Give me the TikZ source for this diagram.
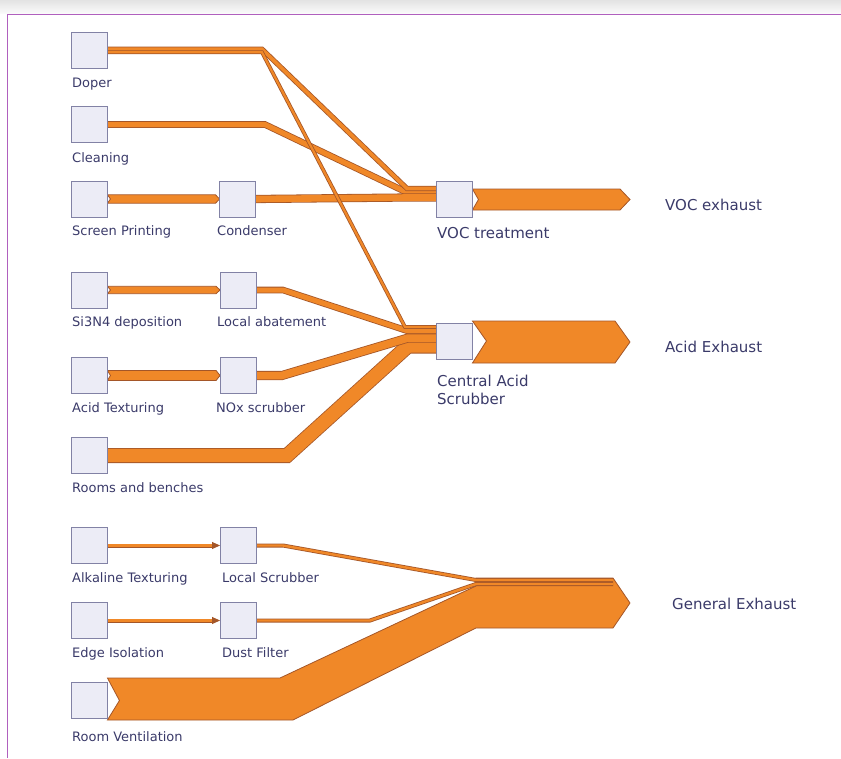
\documentclass[tikz,border=0pt]{standalone}
\usepackage{fontspec}
\setmainfont{DejaVu Sans}
\usetikzlibrary{calc}
\definecolor{flowor}{RGB}{240,136,40}
\definecolor{flowbr}{RGB}{164,86,40}
\definecolor{boxfill}{RGB}{236,236,246}
\definecolor{boxline}{RGB}{130,130,165}
\definecolor{txt}{RGB}{58,58,105}
\definecolor{frameline}{RGB}{176,96,190}
\tikzset{
  box/.style={draw=boxline, fill=boxfill, line width=0.9pt, minimum size=35pt, inner sep=0pt},
  lbl/.style={text=txt, inner sep=0pt, anchor=base west, font=\fontsize{13}{15}\selectfont},
  biglbl/.style={text=txt, inner sep=0pt, anchor=base west, font=\fontsize{15}{18}\selectfont},
  band/.style={fill=flowor, draw=flowbr, line width=0.8pt, line join=miter},
  flow/.style={double=flowor, draw=flowbr, line width=0.8pt, double distance=#1, line join=miter},
}
\newcommand\srcband[3]{%
  \draw[band] ($(#1.east)+(0,-#3)$) -- ($(#2.west)+(-4,-#3)$) -- (#2.west)
    -- ($(#2.west)+(-4,#3)$) -- ($(#1.east)+(0,#3)$) -- ($(#1.east)+(3,0)$) -- cycle;}
\begin{document}
\begin{tikzpicture}[x=1pt, y=-1pt]
\useasboundingbox (0,0) rectangle (841,758);
% frame
\shade[top color=black!11, bottom color=black!2] (0,0) rectangle (841,13);
\draw[frameline, line width=1.8pt] (841,14.5) -- (7.5,14.5) -- (7.5,758);

% nodes (boxes)
\node[box] (doper) at (89.5,50.5) {};
\node[box] (cleaning) at (89.5,124.5) {};
\node[box] (screen) at (89.5,199) {};
\node[box] (condenser) at (237.5,199) {};
\node[box] (voc) at (454.5,199.5) {};
\node[box] (si3n4) at (89.5,290) {};
\node[box] (localab) at (238,290) {};
\node[box] (acidtex) at (89.5,375.5) {};
\node[box] (nox) at (238,375.5) {};
\node[box] (rooms) at (89.5,455.5) {};
\node[box] (acid) at (454.5,341) {};
\node[box] (alk) at (89.5,545.5) {};
\node[box] (lscr) at (238,545.5) {};
\node[box] (edge) at (89.5,620.5) {};
\node[box] (dust) at (238,620.5) {};
\node[box] (roomvent) at (89.5,700.5) {};

% flows to VOC treatment
\draw[flow=5pt] (cleaning.east) -- (265,124.5) -- (407,192.5) -- (voc.west |- 0,192.5);
\draw[flow=3.6pt] ($(doper.east)+(0,-1.3)$) -- (262,49.2) -- (407,188.5) -- (voc.west |- 0,188.5);
\srcband{screen}{condenser}{4.2}
\draw[flow=6.6pt] (condenser.east) -- (407,197.5) -- (voc.west |- 0,197.5);

% flows to central acid scrubber
\srcband{si3n4}{localab}{3.7}
\srcband{acidtex}{nox}{5}
\draw[flow=5pt] (localab.east) -- (283,290) -- (408,331) -- (acid.west |- 0,331);
\draw[flow=13.4pt] (rooms.east) -- (287,455.5) -- (408,346) -- (acid.west |- 0,346);
\draw[flow=7.5pt] (nox.east) -- (282,375.5) -- (408,338) -- (acid.west |- 0,338);
\draw[flow=2.2pt] ($(doper.east)+(0,1.8)$) -- (262,52.3) -- (405,327) -- (acid.west |- 0,327);

% exhaust arrows
\draw[band] (voc.east |- 0,189) -- (620,189) -- (630,199.5) -- (620,210) -- (voc.east |- 0,210) -- ($(voc.east)+(6,0)$) -- cycle;
\draw[band] (acid.east |- 0,321) -- (615,321) -- (630,342) -- (615,363) -- (acid.east |- 0,363) -- ($(acid.east)+(14,0)$) -- cycle;

% general exhaust
\draw[band] (roomvent.east |- 0,678) -- (280,678) -- (476,586) -- (476,578) -- (613,578) -- (630,603)
  -- (613,628) -- (476,628) -- (293,720) -- (roomvent.east |- 0,720) -- ($(roomvent.east)+(12,0)$) -- cycle;
\draw[flow=2.4pt, shorten >=7pt] (alk.east) -- (lscr.west);
\fill[flowbr] (lscr.west) -- ++(-8,-3.6) -- ++(0,7.2) -- cycle;
\draw[flow=2.4pt, shorten >=7pt] (edge.east) -- (dust.west);
\fill[flowbr] (dust.west) -- ++(-8,-3.6) -- ++(0,7.2) -- cycle;
\draw[flow=2.4pt] (lscr.east) -- (283,545.5) -- (476,580) -- (613,580);
\draw[flow=2.4pt] (dust.east) -- (370,620.5) -- (476,584) -- (613,584);

% redraw boxes on top
\foreach \n in {doper,cleaning,screen,condenser,voc,si3n4,localab,acidtex,nox,rooms,acid,alk,lscr,edge,dust,roomvent}
  \draw[draw=boxline, fill=boxfill, line width=0.9pt] (\n.south west) rectangle (\n.north east);

% labels
\node[lbl] at (72,87) {Doper};
\node[lbl] at (72,162) {Cleaning};
\node[lbl] at (72,235) {Screen Printing};
\node[lbl] at (217,235) {Condenser};
\node[lbl] at (72,326) {Si3N4 deposition};
\node[lbl] at (217,326) {Local abatement};
\node[lbl] at (72,412) {Acid Texturing};
\node[lbl] at (216,412) {NOx scrubber};
\node[lbl] at (72,492) {Rooms and benches};
\node[lbl] at (72,582) {Alkaline Texturing};
\node[lbl] at (222,582) {Local Scrubber};
\node[lbl] at (72,657) {Edge Isolation};
\node[lbl] at (222,657) {Dust Filter};
\node[lbl] at (72,741) {Room Ventilation};
\node[biglbl] at (437,238) {VOC treatment};
\node[biglbl] at (437,386) {Central Acid};
\node[biglbl] at (437,404) {Scrubber};
\node[biglbl] at (665,210) {VOC exhaust};
\node[biglbl] at (665,352) {Acid Exhaust};
\node[biglbl] at (672,609) {General Exhaust};
\end{tikzpicture}
\end{document}
